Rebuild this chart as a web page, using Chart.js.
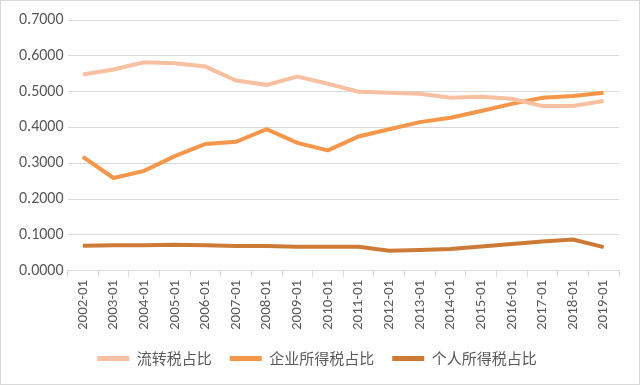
<!DOCTYPE html>
<html>
<head>
<meta charset="utf-8">
<script src="https://cdn.jsdelivr.net/npm/chart.js@4"></script>
<style>
  body { margin: 0; background: #fff; }
  #box { width: 638px; height: 383px; border: 1px solid #d9d9d9; position: relative; }
</style>
</head>
<body>
<div id="box"><canvas id="chart" width="638" height="383"></canvas></div>
<script>
const months = ['2002-01','2003-01','2004-01','2005-01','2006-01','2007-01','2008-01','2009-01','2010-01',
    '2011-01','2012-01','2013-01','2014-01','2015-01','2016-01','2017-01','2018-01','2019-01'];
const turnoverTax = [0.548,0.562,0.582,0.579,0.570,0.531,0.519,0.542,0.522,0.500,0.497,0.494,0.483,0.486,0.480,0.460,0.460,0.474];
const corporateTax = [0.318,0.259,0.279,0.320,0.354,0.360,0.395,0.357,0.336,0.375,0.395,0.415,0.427,0.446,0.466,0.483,0.488,0.497];
const personalTax = [0.070,0.071,0.071,0.073,0.071,0.069,0.069,0.067,0.067,0.067,0.056,0.058,0.061,0.068,0.075,0.082,0.087,0.066];
const seriesNames = ['流转税占比','企业所得税占比','个人所得税占比'];
const colors = ['#F8C0A0','#F5964A','#CD7A37'];

function makeSet(i, values) {
    return {
        label: seriesNames[i],
        data: values,
        borderColor: colors[i],
        backgroundColor: colors[i],
        borderWidth: 4,
        pointRadius: 0,
        tension: 0
    }
}

const data = {
    labels: months,
    datasets: [makeSet(0, turnoverTax), makeSet(1, corporateTax), makeSet(2, personalTax)]
};

const config = {
    type: 'line',
    data: data,
    options: {
        responsive: false,
        animation: false,
        layout: { padding: { top: 19, right: 20, left: 14, bottom: 8 } },
        plugins: {
            tooltip: { enabled: false },
            legend: {
                position: 'bottom',
                labels: {
                    boxWidth: 32,
                    boxHeight: 5,
                    padding: 18,
                    color: '#595959',
                    font: { family: '"Noto Sans CJK SC"', size: 15 },
                    generateLabels: function(chart) {
                        return chart.data.datasets.map((ds, i) => ({
                            text: ds.label,
                            fillStyle: ds.borderColor,
                            strokeStyle: ds.borderColor,
                            lineWidth: 0,
                            fontColor: '#595959',
                            datasetIndex: i
                        }))
                    }
                }
            }
        },
        scales: {
            x: {
                offset: true,
                grid: { display: true, drawOnChartArea: false, offset: true, tickLength: 6, color: '#d9d9d9' },
                border: { color: '#d9d9d9' },
                ticks: {
                    minRotation: 90, maxRotation: 90,
                    color: '#595959',
                    font: { family: 'Calibri, Carlito, "Liberation Sans", sans-serif', size: 15 }
                }
            },
            y: {
                min: 0, max: 0.7,
                grid: { color: '#d9d9d9', drawTicks: false },
                border: { display: false },
                ticks: {
                    stepSize: 0.1,
                    padding: 4,
                    color: '#595959',
                    font: { family: 'Calibri, Carlito, "Liberation Sans", sans-serif', size: 16 },
                    callback: v => v.toFixed(4)
                }
            }
        }
    }
};

let ctx = document.getElementById('chart').getContext('2d');
new Chart(ctx, config);
</script>
</body>
</html>
